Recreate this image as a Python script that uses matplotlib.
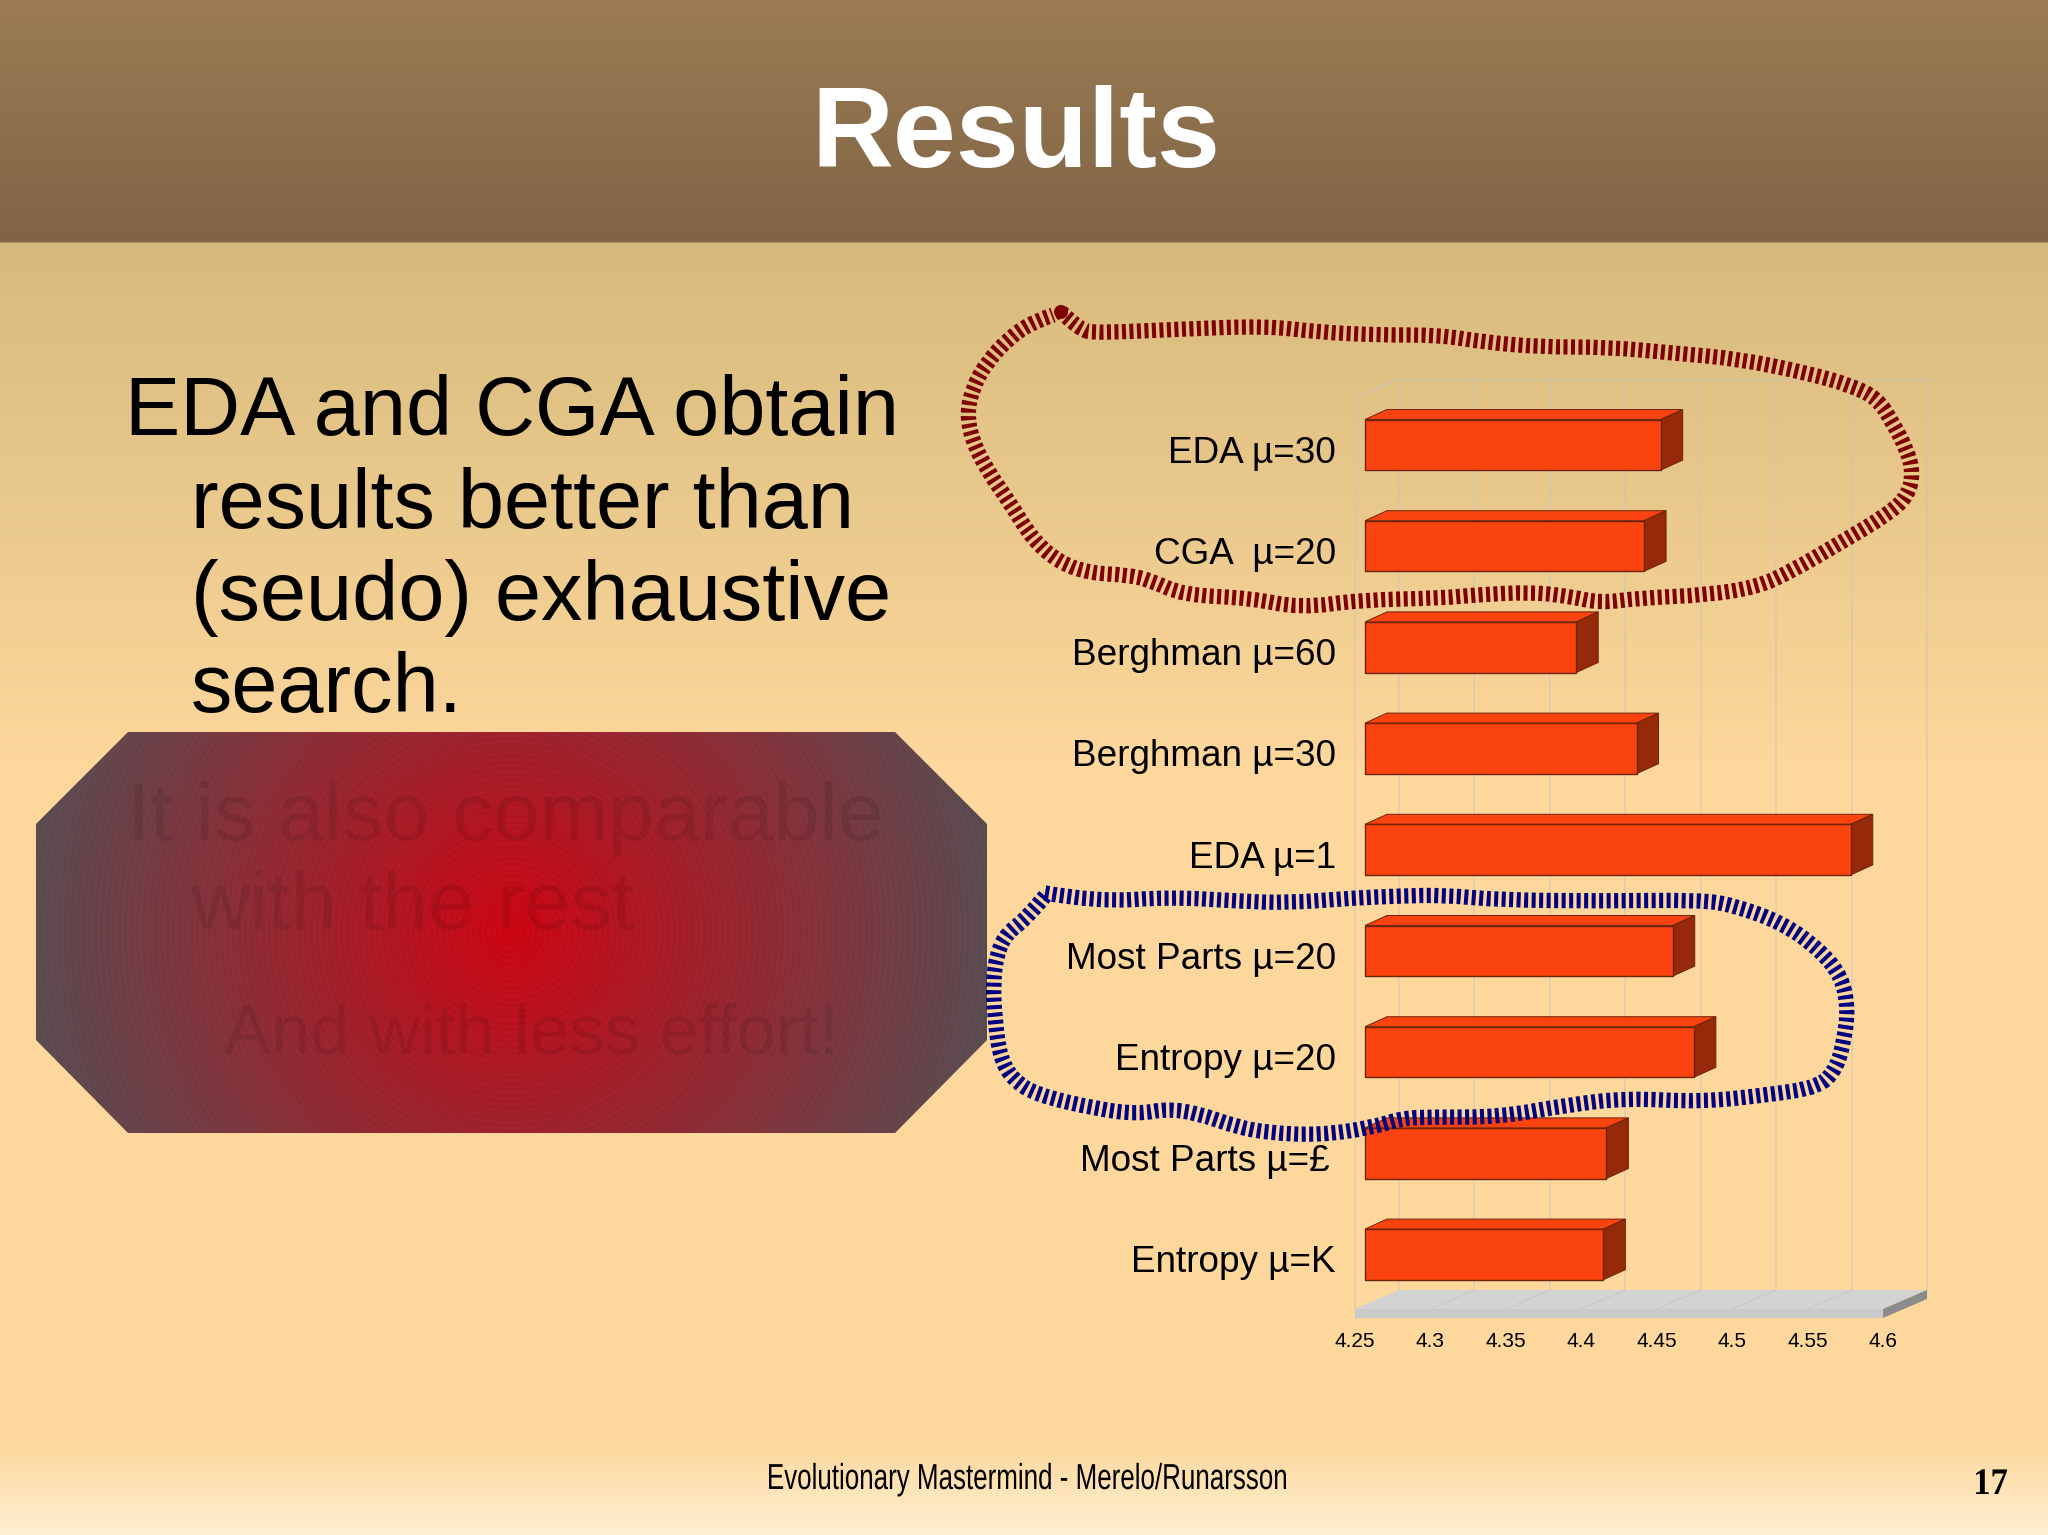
import numpy as np
import matplotlib
matplotlib.use("Agg")
import matplotlib.pyplot as plt
from matplotlib.path import Path
from matplotlib.patches import PathPatch, Polygon, Circle
from matplotlib.text import Text
from matplotlib.textpath import TextPath
from matplotlib.transforms import ScaledTranslation, Affine2D

# ---------- chart data ----------
categories = ["EDA µ=30", "CGA  µ=20", "Berghman µ=60", "Berghman µ=30", "EDA µ=1",
              "Most Parts µ=20", "Entropy µ=20", "Most Parts µ=£", "Entropy µ=K"]
values = [4.446, 4.435, 4.390, 4.430, 4.572, 4.454, 4.468, 4.410, 4.408]
x_ticks = [4.25, 4.3, 4.35, 4.4, 4.45, 4.5, 4.55, 4.6]
x_tick_labels = ["4.25", "4.3", "4.35", "4.4", "4.45", "4.5", "4.55", "4.6"]

# ---------- slide text ----------
title = "Results"
body_lines = ["EDA and CGA obtain", "results better than", "(seudo) exhaustive", "search."]
hidden_lines = ["It is also comparable", "with the rest", "And with less effort!"]
footer = "Evolutionary Mastermind - Merelo/Runarsson"
page = "17"

# ---------- hand-drawn outlines (control points, slide pixels) ----------
red_x = [1061, 1080, 1097, 1183, 1267, 1317, 1377, 1440, 1483, 1540, 1607, 1673, 1740, 1807, 1850, 1877, 1893, 1907,
         1913, 1908, 1890, 1840, 1790, 1757, 1707, 1640, 1600, 1573, 1533, 1473, 1443, 1360, 1300, 1250, 1183, 1150,
         1127, 1090, 1060, 1033, 1010, 987, 972, 967, 973, 987, 1010, 1033, 1053]
red_y = [312, 330, 333, 329, 326, 332, 335, 335, 342, 347, 347, 353, 359, 373, 385, 398, 423, 450,
         473, 495, 513, 543, 572, 587, 595, 598, 603, 597, 592, 595, 598, 600, 608, 598, 595, 580,
         575, 573, 563, 540, 503, 470, 440, 413, 387, 362, 337, 322, 315]
blue_x = [1045, 1097, 1170, 1237, 1287, 1353, 1400, 1443, 1500, 1600, 1700, 1733, 1783, 1820, 1842, 1848, 1844, 1837,
          1820, 1767, 1700, 1627, 1567, 1500, 1433, 1403, 1370, 1320, 1270, 1237, 1197, 1167, 1137, 1097, 1037,
          1013, 1000, 995, 993, 997, 1007, 1027, 1045]
blue_y = [893, 902, 897, 901, 903, 898, 896, 895, 900, 901, 900, 905, 923, 950, 977, 1010, 1040, 1067,
          1087, 1095, 1102, 1098, 1105, 1117, 1117, 1118, 1128, 1135, 1133, 1127, 1113, 1109, 1114, 1109, 1095,
          1080, 1057, 1020, 983, 953, 933, 918, 896]

plt.rcParams["font.family"] = ["Liberation Sans", "DejaVu Sans"]
plt.rcParams["lines.scale_dashes"] = False

W, H = 2048, 1535
fig = plt.figure(figsize=(W / 100, H / 100), dpi=100)


class CondensedText(Text):
    """A real text object drawn squeezed horizontally to a given pixel width."""

    def __init__(self, *args, width_px=None, **kwargs):
        super().__init__(*args, **kwargs)
        self.width_px = width_px

    def _outline(self):
        size = self.get_fontsize() * self.figure.dpi / 72
        tp = TextPath((0, 0), self.get_text(), size=size, prop=self.get_fontproperties())
        ext = tp.get_extents()
        sx = self.width_px / ext.width
        x, y = self.get_transform().transform(self.get_position())
        return tp, Affine2D().translate(-ext.x0, 0).scale(sx, 1).translate(x, y)

    def draw(self, renderer):
        if not self.get_visible():
            return
        tp, tr = self._outline()
        gc = renderer.new_gc()
        gc.set_foreground(self.get_color())
        gc.set_linewidth(0)
        gc.set_antialiased(True)
        renderer.draw_path(gc, tp, tr, matplotlib.colors.to_rgb(self.get_color()))
        gc.restore()

    def get_window_extent(self, renderer=None, dpi=None):
        tp, tr = self._outline()
        return tp.get_extents(tr)


def pixel_axes(z):
    a = fig.add_axes([0, 0, 1, 1], zorder=z)
    a.set_xlim(0, W)
    a.set_ylim(H, 0)
    a.axis("off")
    a.patch.set_alpha(0)
    return a


bg = pixel_axes(0)
top = pixel_axes(5)

# background bands
stops_y = [0, 242, 243, 760, 1440, 1535]
stops_c = [(0x9B, 0x7C, 0x55), (0x80, 0x64, 0x45), (0xD6, 0xBA, 0x7C),
           (0xFD, 0xD7, 0x9B), (0xFD, 0xD7, 0x9B), (0xFF, 0xEF, 0xD2)]
rows = np.arange(H) + 0.5
grad = np.stack([np.interp(rows, stops_y, [c[i] for c in stops_c]) for i in range(3)], axis=1) / 255
bg.imshow(grad[:, None, :], extent=(0, W, H, 0), aspect="auto", zorder=0, interpolation="nearest")

# octagon with radial fill
ox0, ox1, ox2, ox3 = 36, 128, 895, 987
oy0, oy1, oy2, oy3 = 732, 824, 1040, 1133
cx, cy = 511, 932
xx, yy = np.meshgrid(np.arange(ox0, ox3), np.arange(oy0, oy3))
r = np.hypot(xx + 0.5 - cx, yy + 0.5 - cy)
t = np.clip(r / 476, 0, 1)[..., None]
inner = np.array([0xCC, 0x05, 0x12]) / 255
outer = np.array([0x5A, 0x4A, 0x50]) / 255
rgb = inner * (1 - t) + outer * t
rgb = np.clip(rgb + ((r // 3) % 2)[..., None] * 0.01, 0, 1)
oct_im = bg.imshow(rgb, extent=(ox0, ox3, oy3, oy0), aspect="auto", zorder=1, interpolation="nearest")
oct_poly = Polygon([(ox1, oy0), (ox2, oy0), (ox3, oy1), (ox3, oy2), (ox2, oy3), (ox1, oy3), (ox0, oy2), (ox0, oy1)],
                   closed=True, transform=bg.transData, fc="none", ec="none")
bg.add_patch(oct_poly)
oct_im.set_clip_path(oct_poly)
bg.set_xlim(0, W)
bg.set_ylim(H, 0)

# slide text
bg.text(1016, 167, title, color="white", fontsize=81.5, fontweight="bold", ha="center", va="baseline", zorder=3)
body_pos = [(125, 435), (191, 528), (191, 620), (191, 712)]
for s, (x, y) in zip(body_lines, body_pos):
    bg.text(x, y, s, color="black", fontsize=59.7, ha="left", va="baseline", zorder=3)
hidden_pos = [(127, 840, 59.4), (190, 929, 59.4), (224, 1053, 50.8)]
for s, (x, y, fs) in zip(hidden_lines, hidden_pos):
    bg.text(x, y, s, color="black", alpha=0.09, fontsize=fs, ha="left", va="baseline", zorder=3)

foot = CondensedText(769, 1489, footer, width_px=517, color="black", fontsize=26, ha="left", va="baseline",
                     zorder=3, transform=bg.transData, family="Liberation Sans")
bg.add_artist(foot)
num = CondensedText(1976, 1494, page, width_px=31, color="black", fontsize=27, fontweight="bold", ha="left",
                    va="baseline", zorder=3, transform=bg.transData, family="Liberation Serif")
bg.add_artist(num)

# ---------- chart ----------
AL, AR, AT, AB = 1355, 1883, 398, 1309
ax = fig.add_axes([AL / W, 1 - AB / H, (AR - AL) / W, (AB - AT) / H], zorder=2)
ax.patch.set_alpha(0)
for sp in ax.spines.values():
    sp.set_visible(False)
ax.set_xlim(x_ticks[0], x_ticks[-1])
pitch = 101.2
c0 = 444.8
ax.set_ylim((AB - c0) / pitch, (AT - c0) / pitch)
ux = (x_ticks[-1] - x_ticks[0]) / (AR - AL)
uy = 1 / pitch
idx = np.arange(len(categories))

depth_x, depth_y = 44 * ux, 19 * uy
wall_color = "#C4C4C4"
wall_alpha = 0.55
y_bot, y_top = ax.get_ylim()
kw = dict(clip_on=False, zorder=1, alpha=wall_alpha)
# back wall grid
for v in x_ticks:
    ax.plot([v + depth_x] * 2, [y_bot - depth_y, y_top - depth_y], color=wall_color, lw=1.1, **kw)
ax.plot([x_ticks[0] + depth_x, x_ticks[-1] + depth_x], [y_top - depth_y] * 2, color=wall_color, lw=0.8, **kw)
ax.plot([x_ticks[0], x_ticks[0], x_ticks[0] + depth_x], [y_bot, y_top, y_top - depth_y], color=wall_color, lw=1.1, **kw)

# floor
x0, x1 = x_ticks[0], x_ticks[-1]
thick = 9 * uy
ax.add_patch(Polygon([(x0, y_bot), (x1, y_bot), (x1 + depth_x, y_bot - depth_y), (x0 + depth_x, y_bot - depth_y)],
                     fc="#D3D3D3", ec="none", clip_on=False, zorder=2))
ax.add_patch(Polygon([(x0, y_bot), (x1, y_bot), (x1, y_bot + thick), (x0, y_bot + thick)],
                     fc="#C9C9C9", ec="none", clip_on=False, zorder=2))
ax.add_patch(Polygon([(x1, y_bot), (x1 + depth_x, y_bot - depth_y), (x1 + depth_x, y_bot - depth_y + thick), (x1, y_bot + thick)],
                     fc="#8C8C8C", ec="none", clip_on=False, zorder=2))
for v in x_ticks[1:-1]:
    ax.plot([v, v + depth_x], [y_bot, y_bot - depth_y], color="#C4C4C4", lw=0.6, clip_on=False, zorder=2.5)

# bars
bar_off = 10 * ux
bar_h = 0.5
bd_x, bd_y = 22 * ux, 10 * uy
front_c, side_c, edge_c = "#FB430F", "#96290A", "#6B2408"
base = x_ticks[0] + bar_off
ax.barh(idx, np.array(values) - x_ticks[0], left=base, height=bar_h, color=front_c, edgecolor=edge_c, lw=1.0, zorder=4)
for i, v in zip(idx, values):
    end = v + bar_off
    y_up, y_dn = i - bar_h / 2, i + bar_h / 2
    ax.add_patch(Polygon([(base, y_up), (end, y_up), (end + bd_x, y_up - bd_y), (base + bd_x, y_up - bd_y)],
                         fc=front_c, ec=edge_c, lw=0.7, zorder=3))
    ax.add_patch(Polygon([(end, y_up), (end + bd_x, y_up - bd_y), (end + bd_x, y_dn - bd_y), (end, y_dn)],
                         fc=side_c, ec=edge_c, lw=0.7, zorder=3))

# axes labels
ax.set_xticks(x_ticks)
ax.set_xticklabels(x_tick_labels, fontsize=15, color="black")
ax.set_yticks(idx)
ax.set_yticklabels(categories, fontsize=26.6, color="black", va="baseline")
ax.tick_params(axis="both", length=0)
ax.tick_params(axis="x", pad=16.5)
ax.tick_params(axis="y", pad=13.7)
for lab, txt in zip(ax.get_yticklabels(), categories):
    dx = -6 if txt.endswith("£") else 0
    lab.set_transform(lab.get_transform() + ScaledTranslation(dx * 0.72 / 72, -18 * 0.72 / 72, fig.dpi_scale_trans))


# ---------- outlines ----------
def outline(xs, ys, color):
    p = np.column_stack([xs, ys]).astype(float)
    verts = [p[0]]
    codes = [Path.MOVETO]
    for i in range(1, len(p) - 1):
        end = (p[i] + p[i + 1]) / 2 if i < len(p) - 2 else p[i + 1]
        verts += [p[i], end]
        codes += [Path.CURVE3, Path.CURVE3]
    top.add_patch(PathPatch(Path(verts, codes), fc="none", ec=color, lw=11, capstyle="butt",
                            linestyle=(0, (2.9, 2.5)), zorder=2))


outline(red_x, red_y, "#7F0000")
outline(blue_x, blue_y, "#000080")
top.add_patch(Circle((red_x[0], red_y[0]), 7, fc="#7F0000", ec="none", zorder=3))
top.set_xlim(0, W)
top.set_ylim(H, 0)

fig.savefig("out.png", dpi=100)
